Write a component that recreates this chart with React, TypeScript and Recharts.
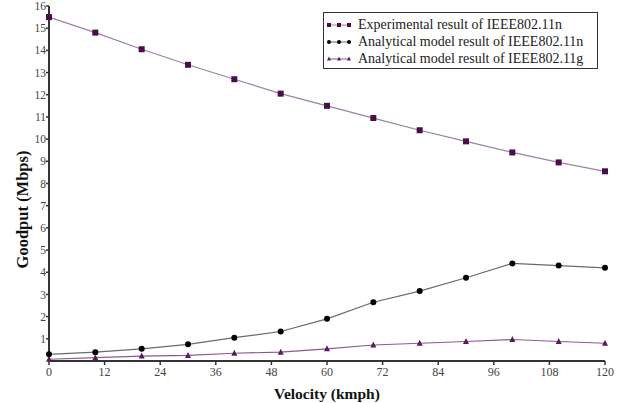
import { LineChart, Line, XAxis, YAxis } from 'recharts';

const velocity = [0, 10, 20, 30, 40, 50, 60, 70, 80, 90, 100, 110, 120];
const experimental11n = [15.5, 14.8, 14.05, 13.35, 12.7, 12.05, 11.5, 10.95, 10.4, 9.9, 9.4, 8.95, 8.55];
const analytical11n = [0.3, 0.4, 0.55, 0.75, 1.05, 1.33, 1.9, 2.65, 3.15, 3.75, 4.4, 4.3, 4.2];
const analytical11g = [0.08, 0.15, 0.22, 0.25, 0.35, 0.4, 0.55, 0.72, 0.8, 0.88, 0.97, 0.88, 0.8];
const xTicks = [0, 12, 24, 36, 48, 60, 72, 84, 96, 108, 120];
const yTicks = [1, 2, 3, 4, 5, 6, 7, 8, 9, 10, 11, 12, 13, 14, 15, 16];

const data = velocity.map((v, i) => ({
  v,
  exp: experimental11n[i],
  an: analytical11n[i],
  ag: analytical11g[i],
}));

const FONT = 'Liberation Serif, DejaVu Serif, serif';

const SERIES = [
  { key: 'exp', name: 'Experimental result of IEEE802.11n', line: '#9c82a2', mark: '#4a0c4c', shape: 'square' },
  { key: 'an', name: 'Analytical model result of IEEE802.11n', line: '#6a6a6a', mark: '#000000', shape: 'circle' },
  { key: 'ag', name: 'Analytical model result of IEEE802.11g', line: '#8a5a8e', mark: '#5a1a5e', shape: 'triangle' },
];

function Marker({ cx, cy, shape, color, size = 6 }: { cx: number; cy: number; shape: string; color: string; size?: number }) {
  const h = size / 2;
  if (shape === 'square') return <rect x={cx - h} y={cy - h} width={size} height={size} fill={color} />;
  if (shape === 'circle') return <circle cx={cx} cy={cy} r={h} fill={color} />;
  return <path d={`M${cx},${cy - h - 0.5}L${cx + h},${cy + h - 0.5}L${cx - h},${cy + h - 0.5}Z`} fill={color} />;
}

function makeDot(shape: string, color: string) {
  return (props: any) => {
    if (props.cx == null || props.cy == null) return <g key={props.key} />;
    return <Marker key={props.key} cx={props.cx} cy={props.cy} shape={shape} color={color} />;
  };
}

function YLabel({ viewBox }: any) {
  const cy = viewBox.y + viewBox.height / 2 + 26;
  return (
    <text
      x={22}
      y={cy}
      transform={`rotate(-90, 22, ${cy})`}
      textAnchor="middle"
      dominantBaseline="central"
      style={{ fontFamily: FONT, fontSize: 16.5, fontWeight: 'bold', fill: '#111' }}
    >
      Goodput (Mbps)
    </text>
  );
}

function LegendBox() {
  return (
    <div style={{ position: 'absolute', left: 323, top: 12, border: '1px solid #333', width: 275, height: 57, padding: '3px 0 0 2px', boxSizing: 'border-box', background: '#fff' }}>
      {SERIES.map((s) => (
        <div key={s.key} style={{ display: 'flex', alignItems: 'center', height: 17, whiteSpace: 'nowrap', fontFamily: FONT, fontSize: 14, color: '#222' }}>
          <svg width={28} height={10} style={{ marginRight: 4 }}>
            <line x1={2} y1={5} x2={24} y2={5} stroke={s.line} strokeWidth={1} />
            {[3, 13, 23].map((x) => (
              <Marker key={x} cx={x} cy={5} shape={s.shape} color={s.mark} size={4} />
            ))}
          </svg>
          <span>{s.name}</span>
        </div>
      ))}
    </div>
  );
}

export default function App() {
  return (
    <div style={{ position: 'absolute', left: 0, top: 0, width: 627, height: 403, background: '#fff', fontFamily: FONT }}>
      <LineChart width={627} height={403} data={data} margin={{ top: 6, right: 22, bottom: 12, left: 0 }} style={{ fontFamily: FONT }}>
        <XAxis
          dataKey="v"
          type="number"
          domain={[0, 120]}
          ticks={xTicks}
          interval={0}
          axisLine={{ stroke: '#333', strokeWidth: 2 }}
          tickLine={{ stroke: '#333', strokeWidth: 1.5 }}
          tickSize={4}
          tick={{ fontFamily: FONT, fontSize: 12, fill: '#444' }}
          height={30}
          label={{ value: 'Velocity (kmph)', position: 'insideBottom', offset: -8, style: { fontFamily: FONT, fontSize: 15.5, fontWeight: 'bold', fill: '#111' } }}
        />
        <YAxis
          type="number"
          domain={[0, 16]}
          ticks={yTicks}
          interval={0}
          width={49}
          axisLine={{ stroke: '#333', strokeWidth: 2 }}
          tickLine={{ stroke: '#333', strokeWidth: 1.5 }}
          tickSize={3}
          tick={{ fontFamily: FONT, fontSize: 11.5, fill: '#444', dx: 2 }}
          label={<YLabel />}
        />
        {SERIES.map((s) => (
          <Line
            key={s.key}
            type="linear"
            dataKey={s.key}
            name={s.name}
            stroke={s.line}
            strokeWidth={1.2}
            dot={makeDot(s.shape, s.mark)}
            activeDot={false}
            isAnimationActive={false}
          />
        ))}
      </LineChart>
      <LegendBox />
    </div>
  );
}
